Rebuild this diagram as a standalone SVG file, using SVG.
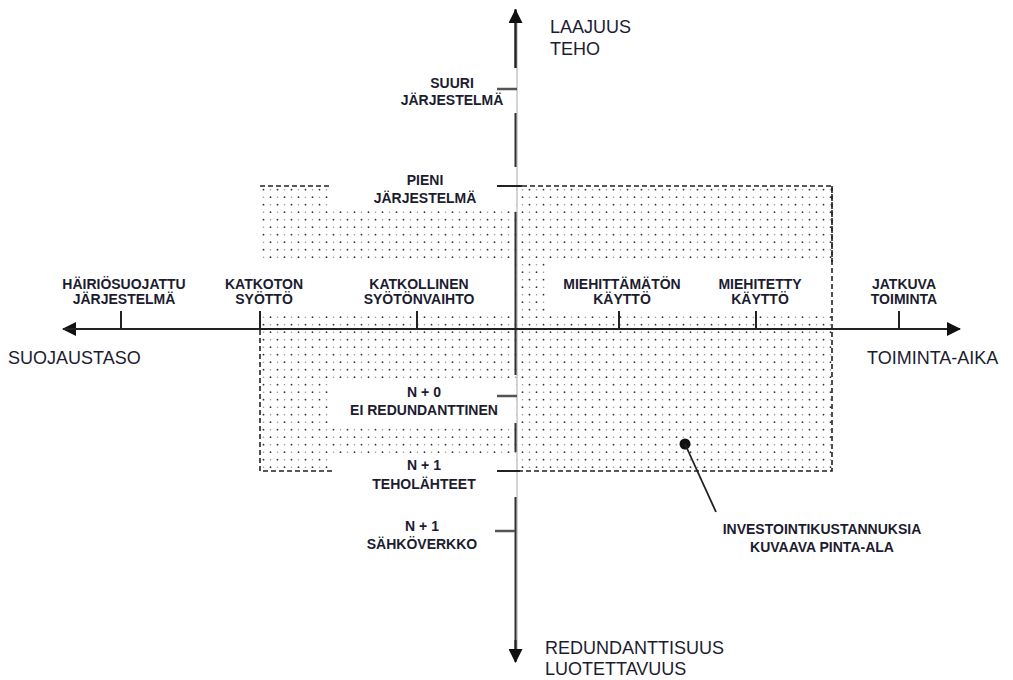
<svg xmlns="http://www.w3.org/2000/svg" width="1013" height="680" viewBox="0 0 1013 680">
<style>
.t{font-family:"Liberation Sans",Arial,sans-serif;fill:#1c1c30}
.ax{font-size:18px}
.lb{font-size:14px;font-weight:bold;text-anchor:middle}
.axis{stroke:#222;stroke-width:2;fill:none}
.tick{stroke:#222;stroke-width:2}
.vtick{stroke:#555;stroke-width:2.5}
.border{stroke:#222;stroke-width:1.6;stroke-dasharray:5 3;fill:none}
.wh{fill:#fff}
</style>
<defs>
<pattern id="dots" x="260" y="186" width="14" height="15" patternUnits="userSpaceOnUse">
<circle cx="3.5" cy="3.7" r="0.9" fill="#333"/>
<circle cx="10.5" cy="11.2" r="0.9" fill="#333"/>
<circle cx="10.5" cy="3.7" r="0.8" fill="#999"/>
<circle cx="3.5" cy="11.2" r="0.8" fill="#999"/>
</pattern>
<marker id="ah" viewBox="0 0 14 14" refX="13" refY="7" markerWidth="14" markerHeight="14" markerUnits="userSpaceOnUse" orient="auto">
<path d="M0,0 L14,7 L0,14 Z" fill="#111"/>
</marker>
</defs>
<rect width="1013" height="680" fill="#fff"/>

<g id="area">
<rect x="260" y="186" width="572" height="285" fill="url(#dots)"/>
<rect class="wh" x="331" y="187" width="185" height="24"/>
<rect class="wh" x="258" y="262" width="258" height="49"/>
<rect class="wh" x="548" y="262" width="286" height="49"/>
<rect class="wh" x="332" y="378" width="184" height="47"/>
<rect class="wh" x="332" y="454" width="184" height="40"/>
<path class="border" d="M260,186 H330 M522,186 H832 V471 H520 M332,471 H260 V311"/>
<path class="border" d="M832,186 V262"/>
</g>

<g id="connectors">
<line x1="517" y1="20" x2="517" y2="650" stroke="#aaa" stroke-width="1"/>
<path d="M515.5,68 V9 M515.5,113 V167 M515.5,212 V375 M515.5,423 V452 M515.5,497 V661" stroke="#333" stroke-width="2" fill="none"/>
<path d="M515.5,68 V10" class="axis" marker-end="url(#ah)"/>
<path d="M515.5,640 V662" class="axis" marker-end="url(#ah)"/>
<path d="M960,329 H63" class="axis" marker-end="url(#ah)"/>
<path d="M63,329 H960" class="axis" marker-end="url(#ah)"/>
<path class="tick" d="M121,311 V329 M260,311 V329 M417,311 V329 M619,311 V329 M756,311 V329 M899,311 V329"/>
<path class="vtick" d="M497,89 H517 M497,396 H517 M495,531 H515"/>
<path class="tick" d="M497,186 H522 M497,471 H520"/>
<circle cx="685" cy="444" r="5.5" fill="#111"/>
<line x1="685" y1="444" x2="716" y2="512" stroke="#222" stroke-width="1.8"/>
</g>

<g id="axis-titles">
<text class="t ax" x="550" y="33">LAAJUUS</text>
<text class="t ax" x="550" y="55">TEHO</text>
<text class="t ax" x="8" y="364">SUOJAUSTASO</text>
<text class="t ax" x="867" y="364">TOIMINTA-AIKA</text>
<text class="t ax" x="545" y="654">REDUNDANTTISUUS</text>
<text class="t ax" x="545" y="675">LUOTETTAVUUS</text>
</g>

<g id="n-hairiosuojattu"><text class="t lb" x="124" y="289">HÄIRIÖSUOJATTU</text><text class="t lb" x="124" y="304">JÄRJESTELMÄ</text></g>
<g id="n-katkoton"><text class="t lb" x="264" y="289">KATKOTON</text><text class="t lb" x="264" y="304">SYÖTTÖ</text></g>
<g id="n-katkollinen"><text class="t lb" x="419" y="289">KATKOLLINEN</text><text class="t lb" x="419" y="304">SYÖTÖNVAIHTO</text></g>
<g id="n-miehittamaton"><text class="t lb" x="622" y="289">MIEHITTÄMÄTÖN</text><text class="t lb" x="622" y="304">KÄYTTÖ</text></g>
<g id="n-miehitetty"><text class="t lb" x="760" y="289">MIEHITETTY</text><text class="t lb" x="760" y="304">KÄYTTÖ</text></g>
<g id="n-jatkuva"><text class="t lb" x="904" y="289">JATKUVA</text><text class="t lb" x="904" y="304">TOIMINTA</text></g>
<g id="n-suuri"><text class="t lb" x="452" y="88">SUURI</text><text class="t lb" x="452" y="105">JÄRJESTELMÄ</text></g>
<g id="n-pieni"><text class="t lb" x="425" y="185">PIENI</text><text class="t lb" x="425" y="203">JÄRJESTELMÄ</text></g>
<g id="n-n0"><text class="t lb" x="424" y="397">N + 0</text><text class="t lb" x="424" y="415">EI REDUNDANTTINEN</text></g>
<g id="n-n1-teho"><text class="t lb" x="424" y="470">N + 1</text><text class="t lb" x="424" y="489">TEHOLÄHTEET</text></g>
<g id="n-n1-sahko"><text class="t lb" x="422" y="531">N + 1</text><text class="t lb" x="422" y="549">SÄHKÖVERKKO</text></g>
<g id="n-investointi"><text class="t lb" x="822" y="534">INVESTOINTIKUSTANNUKSIA</text><text class="t lb" x="822" y="552">KUVAAVA PINTA-ALA</text></g>
</svg>
